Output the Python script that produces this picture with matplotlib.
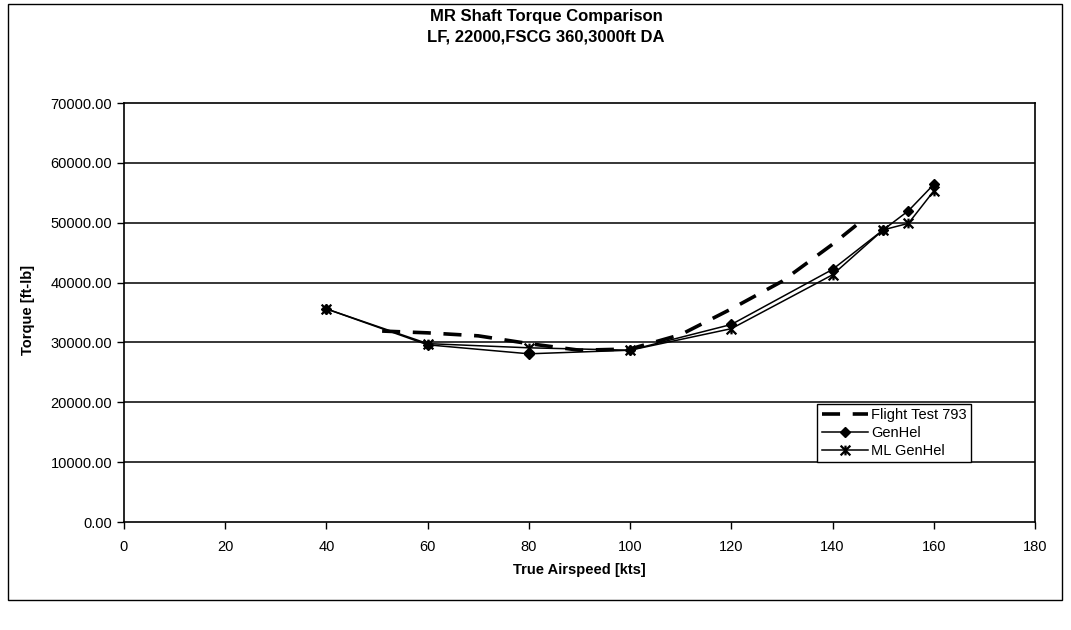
import matplotlib.pyplot as plt
from matplotlib.lines import Line2D
from matplotlib.path import Path

plt.rcParams['font.family'] = ['Liberation Sans', 'DejaVu Sans']

# flight test (dashed)
ft_speed = [51, 60, 70, 80, 90, 100, 110, 120, 130, 140, 145]
ft_torque = [31900, 31600, 31100, 29800, 28700, 28900, 31300, 35600, 40200, 46400, 49800]

# GenHel
gh_speed = [40, 60, 80, 100, 120, 140, 150, 155, 160]
gh_torque = [35600, 29600, 28100, 28700, 33000, 42200, 48800, 52000, 56400]

# ML GenHel
ml_speed = [40, 60, 80, 100, 120, 140, 150, 155, 160]
ml_torque = [35600, 29800, 29100, 28700, 32300, 41300, 48800, 49900, 55300]

x_ticks = list(range(0, 181, 20))
y_ticks = list(range(0, 70001, 10000))

# excel-like star marker: an x with a vertical bar
star = Path([(-1, -1), (1, 1), (-1, 1), (1, -1), (0, -1), (0, 1)],
            [Path.MOVETO, Path.LINETO, Path.MOVETO, Path.LINETO, Path.MOVETO, Path.LINETO])

fig = plt.figure(figsize=(10.71, 6.3), dpi=100)
ax = fig.add_axes([124/1071, 1 - 522/630, (1035-124)/1071, (522-103)/630])

# outer chart border
fig.patches.append(plt.Rectangle((8/1071, 1 - 600/630), (1062-8)/1071, (600-4)/630,
                                 transform=fig.transFigure, fill=False, lw=1.0, ec='black'))

# horizontal gridlines
for yv in y_ticks[1:-1]:
    ax.axhline(yv, color='black', lw=1.1, zorder=1)

ax.plot(ft_speed, ft_torque, color='black', lw=2.6, ls=(0, (5, 3.5)), zorder=3)
ax.plot(gh_speed, gh_torque, color='black', lw=1.1, marker='D', ms=5, zorder=4)
ax.plot(ml_speed, ml_torque, color='black', lw=1.1, marker=star, ms=7, mew=1.6, zorder=4)

ax.set_xlim(0, 180)
ax.set_ylim(0, 70000)
ax.set_xticks(x_ticks)
ax.set_yticks(y_ticks)
ax.set_xticklabels([str(v) for v in x_ticks])
ax.set_yticklabels([f'{v:.2f}' for v in y_ticks])
ax.tick_params(direction='out', length=5, width=1, labelsize=10.5, colors='black')
ax.tick_params(axis='x', pad=8)
for s in ax.spines.values():
    s.set_color('black')
    s.set_linewidth(1.2)

fig.text(546/1071, 1 - 17/630, 'MR Shaft Torque Comparison', ha='center', va='center',
         fontsize=12, fontweight='bold')
fig.text(546/1071, 1 - 37/630, 'LF, 22000,FSCG 360,3000ft DA', ha='center', va='center',
         fontsize=12, fontweight='bold')
fig.text(579/1071, 1 - 570/630, 'True Airspeed [kts]', ha='center', va='center',
         fontsize=10.5, fontweight='bold')
fig.text(28/1071, 1 - 310/630, 'Torque [ft-lb]', ha='center', va='center', rotation=90,
         fontsize=10.5, fontweight='bold')

handles = [
    Line2D([], [], color='black', lw=2.6, ls=(0, (5, 3.5))),
    Line2D([], [], color='black', lw=1.1, marker='D', ms=5),
    Line2D([], [], color='black', lw=1.1, marker=star, ms=7, mew=1.6),
]
leg = ax.legend(handles, ['Flight Test 793', 'GenHel', 'ML GenHel'],
                loc='lower left', bbox_to_anchor=(0.761, 0.143),
                fontsize=10.5, frameon=True, fancybox=False, framealpha=1,
                edgecolor='black', borderpad=0.3, labelspacing=0.25,
                handlelength=3.2, handletextpad=0.2, borderaxespad=0)
leg.get_frame().set_linewidth(1.0)
leg.set_zorder(5)

fig.savefig('out.png', dpi=100)
